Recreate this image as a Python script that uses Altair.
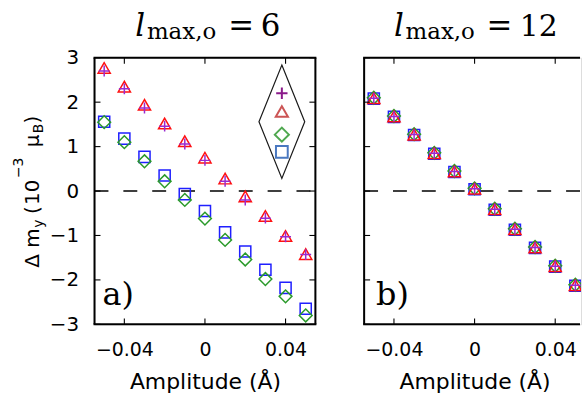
import altair as alt
import pandas as pd

# Displacement amplitudes (Å) shared by every series
amplitude = [-0.05, -0.04, -0.03, -0.02, -0.01, 0.0, 0.01, 0.02, 0.03, 0.04, 0.05]

# Panel a: l_max,o = 6  (Δm_y in 10^-3 μ_B)
a_plus = [2.70, 2.30, 1.87, 1.46, 1.06, 0.69, 0.22, -0.20, -0.61, -1.03, -1.43]
a_triangle = [2.77, 2.35, 1.94, 1.52, 1.12, 0.75, 0.28, -0.12, -0.56, -1.01, -1.42]
a_diamond = [1.55, 1.10, 0.67, 0.22, -0.20, -0.62, -1.10, -1.54, -1.98, -2.37, -2.80]
a_square = [1.56, 1.18, 0.77, 0.35, -0.07, -0.45, -0.93, -1.36, -1.77, -2.18, -2.65]

# Panel b: l_max,o = 12
b_plus = [2.09, 1.68, 1.27, 0.85, 0.44, 0.05, -0.41, -0.86, -1.27, -1.69, -2.12]
b_triangle = [2.09, 1.68, 1.27, 0.85, 0.44, 0.05, -0.41, -0.86, -1.27, -1.69, -2.12]
b_diamond = [2.10, 1.69, 1.28, 0.86, 0.45, 0.06, -0.40, -0.85, -1.26, -1.68, -2.11]
b_square = [2.08, 1.67, 1.26, 0.84, 0.43, 0.04, -0.42, -0.87, -1.28, -1.70, -2.13]

x_ticks = [-0.04, 0.0, 0.04]
y_ticks = [-3, -2, -1, 0, 1, 2, 3]

PANEL_H = 268
SANS = "DejaVu Sans"
SERIF = "DejaVu Serif"
PLUS_PATH = "M-1,0H1M0,-1V1"
DIAMOND_FRAME = "M0,-1L0.4035,0L0,1L-0.4035,0Z"

# marker style per series: (shape, size, plot colour, legend colour)
STYLE = {
    "square": ("square", 125, "#1f1fff", "#4a78c0"),
    "diamond": ("diamond", 165, "#2a9a2a", "#4fa84f"),
    "triangle": ("triangle-up", 150, "#ff1010", "#cc5555"),
    "plus": (PLUS_PATH, 120, "#9a2ad0", "#8a1a8a"),
}


def one_row():
    return pd.DataFrame({"k": [0]})


def panel(series, width, x_domain, tag, tag_x, title_parts, labelled_y, right_side, clip):
    xs = alt.Scale(domain=x_domain, nice=False, zero=False)
    ys = alt.Scale(domain=[-3, 3], nice=False, zero=False)
    x_axis = alt.Axis(
        values=x_ticks, format="~g", ticks=False, tickSize=0, domain=False, grid=False,
        labelFont=SANS, labelFontSize=19, labelColor="black", labelPadding=16,
        labelFlush=False, title="Amplitude (Å)", titleFont=SANS, titleFontSize=22,
        titleFontWeight="normal", titleColor="black", titleBaseline="alphabetic",
        titleX=111, titleY=64,
    )
    if labelled_y:
        y_axis = alt.Axis(
            values=y_ticks, format="d", ticks=False, tickSize=0, domain=False, grid=False,
            labelFont=SANS, labelFontSize=20, labelColor="black", labelPadding=16,
            labelFlush=False, title=None,
        )
    else:
        y_axis = None

    def X():
        return alt.X("amp:Q", scale=xs, axis=x_axis)

    def Y():
        return alt.Y("dmy:Q", scale=ys, axis=y_axis)

    layers = []

    # zero reference line
    layers.append(
        alt.Chart(pd.DataFrame({"dmy": [0.0]}))
        .mark_rule(strokeDash=[14, 15], strokeWidth=1.4, color="black")
        .encode(y=Y(), x=alt.value(0), x2=alt.value(width))
    )

    # data series, drawn bottom to top
    for name in ["square", "diamond", "triangle", "plus"]:
        shape, size, colour, _ = STYLE[name]
        df = pd.DataFrame({"amp": amplitude, "dmy": series[name]})
        layers.append(
            alt.Chart(df)
            .mark_point(shape=shape, size=size, filled=False, strokeWidth=1.5,
                        color=colour, opacity=1, clip=clip)
            .encode(x=X(), y=Y())
        )

    # inward tick marks
    xt = pd.DataFrame({"amp": x_ticks})
    yt = pd.DataFrame({"dmy": y_ticks})
    tick = dict(color="black", strokeWidth=1.1)
    layers.append(alt.Chart(xt).mark_rule(**tick).encode(x=X(), y=alt.value(0), y2=alt.value(6)))
    layers.append(alt.Chart(xt).mark_rule(**tick).encode(
        x=X(), y=alt.value(PANEL_H), y2=alt.value(PANEL_H - 6)))
    layers.append(alt.Chart(yt).mark_rule(**tick).encode(y=Y(), x=alt.value(0), x2=alt.value(6)))
    if right_side:
        layers.append(alt.Chart(yt).mark_rule(**tick).encode(
            y=Y(), x=alt.value(width), x2=alt.value(width - 6)))

    # frame
    frame = dict(color="black", strokeWidth=2)
    right_end = width + 1 if right_side else width - 1
    layers.append(alt.Chart(one_row()).mark_rule(**frame).encode(
        x=alt.value(-1), x2=alt.value(right_end), y=alt.value(0)))
    layers.append(alt.Chart(one_row()).mark_rule(**frame).encode(
        x=alt.value(-1), x2=alt.value(right_end), y=alt.value(PANEL_H)))
    layers.append(alt.Chart(one_row()).mark_rule(**frame).encode(
        x=alt.value(0), y=alt.value(0), y2=alt.value(PANEL_H)))
    if right_side:
        layers.append(alt.Chart(one_row()).mark_rule(**frame).encode(
            x=alt.value(width), y=alt.value(0), y2=alt.value(PANEL_H)))

    # panel tag
    layers.append(
        alt.Chart(one_row())
        .mark_text(text=tag, font=SERIF, fontSize=32, align="left",
                   baseline="alphabetic", color="black")
        .encode(x=alt.value(tag_x), y=alt.value(249))
    )

    # panel heading  l_{max,o} = N
    for text, cx, by, fs, italic in title_parts:
        props = dict(text=text, font=SERIF, fontSize=fs, align="center",
                     baseline="alphabetic", color="black")
        if italic:
            props["fontStyle"] = "italic"
        layers.append(alt.Chart(one_row()).mark_text(**props).encode(
            x=alt.value(cx), y=alt.value(by)))

    return layers


series_a = {"plus": a_plus, "triangle": a_triangle, "diamond": a_diamond, "square": a_square}
series_b = {"plus": b_plus, "triangle": b_triangle, "diamond": b_diamond, "square": b_square}

title_a = [("l", 46, -22, 31, True), ("max,o", 87.5, -19, 23, False),
           ("=", 147.5, -22, 31, False), ("6", 177, -22, 31, False)]
title_b = [("l", 35, -22, 31, True), ("max,o", 76.5, -19, 23, False),
           ("=", 136, -22, 31, False), ("12", 175.5, -22, 30, False)]

layers_a = panel(series_a, 222, [-0.0548, 0.0548], "a)", 8, title_a, True, True, False)
layers_b = panel(series_b, 218, [-0.0548, 0.0528], "b)", 12, title_b, False, False, True)

# legend: diamond-shaped box with the four markers
layers_a.append(
    alt.Chart(one_row())
    .mark_point(shape=DIAMOND_FRAME, size=12996, filled=False, strokeWidth=1.2,
                color="#1a1a1a", opacity=1)
    .encode(x=alt.value(188.3), y=alt.value(64.3))
)
legend_pos = {"plus": 35.7, "triangle": 54.0, "diamond": 77.3, "square": 94.7}
legend_size = {"plus": 130, "triangle": 150, "diamond": 200, "square": 140}
for name, ly in legend_pos.items():
    shape, _, _, lcolour = STYLE[name]
    layers_a.append(
        alt.Chart(one_row())
        .mark_point(shape=shape, size=legend_size[name], filled=False, strokeWidth=2,
                    color=lcolour, opacity=1)
        .encode(x=alt.value(188.3), y=alt.value(ly))
    )

# y-axis title  Δ m_y (10^-3 μ_B), written bottom to top
y_title_parts = [
    ("Δ m", -56, 211, 20),
    ("y", -52, 171, 14),
    ("(", -56, 157, 20),
    ("10", -56, 148, 20),
    ("−3", -72, 121, 14),
    ("μ", -56, 90, 20),
    ("B", -52, 76, 14),
    (")", -56, 66, 20),
]
for text, bx, sy, fs in y_title_parts:
    layers_a.append(
        alt.Chart(one_row())
        .mark_text(text=text, font=SANS, fontSize=fs, angle=270, align="left",
                   baseline="alphabetic", color="black")
        .encode(x=alt.value(bx), y=alt.value(sy))
    )

# page extent on the left, top and bottom
layers_a.insert(0,
    alt.Chart(one_row()).mark_rect(opacity=0).encode(
        x=alt.value(-94), x2=alt.value(0), y=alt.value(-56), y2=alt.value(340))
)

panel_a = alt.layer(*layers_a).properties(width=222, height=PANEL_H)
panel_b = alt.layer(*layers_b).properties(width=218, height=PANEL_H)

chart = (
    alt.hconcat(panel_a, panel_b, spacing=49, bounds="flush", padding=0)
    .configure_view(strokeWidth=0)
    .configure(background="white")
)

chart.save("out.html", embed_options={"renderer": "svg", "actions": False})
